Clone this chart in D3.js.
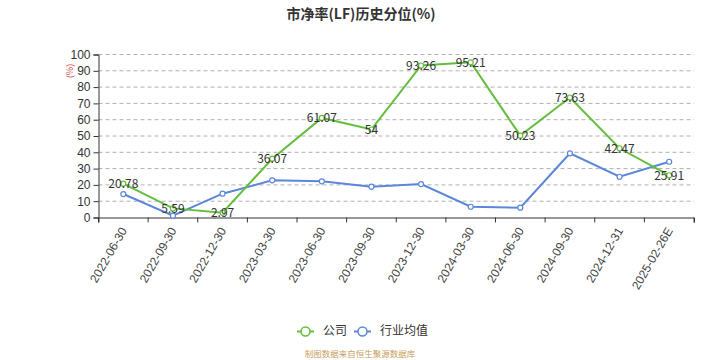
<!DOCTYPE html>
<html><head><meta charset="utf-8">
<script src="https://cdn.jsdelivr.net/npm/d3@7/dist/d3.min.js"></script>
<style>body{margin:0;background:#fff;}svg{display:block;font-family:"Noto Sans CJK SC","Noto Sans",sans-serif;}</style>
</head><body>
<script>
const categories = ["2022-06-30","2022-09-30","2022-12-30","2023-03-30","2023-06-30","2023-09-30","2023-12-30","2024-03-30","2024-06-30","2024-09-30","2024-12-31","2025-02-26E"];
const companyValues = [20.78,5.59,2.97,36.07,61.07,54,93.26,95.21,50.23,73.63,42.47,25.91];
const industryValues = [14.4,1.1,14.6,22.8,22.2,18.9,20.5,6.6,6.0,39.4,25.0,34.2];
const yTicks = [0,10,20,30,40,50,60,70,80,90,100];
const seriesNames = ["公司","行业均值"];
const title = "市净率(LF)历史分位(%)";
const footer = "制图数据来自恒生聚源数据库";

const W=720,H=360;
const svg=d3.select("body").append("svg").attr("width",W).attr("height",H);
const x=d3.scaleBand().domain(categories).range([98.5,694]);
const y=d3.scaleLinear().domain([0,100]).range([217.5,54.5]);
const green="#64bd3d", blue="#5b87da";

// grid
svg.append("g").selectAll("line").data(yTicks.filter(d=>d>0)).join("line")
 .attr("x1",98.5).attr("x2",694).attr("y1",d=>y(d)).attr("y2",d=>y(d))
 .attr("stroke","#b0b0b0").attr("stroke-dasharray","4,3").attr("stroke-width",1);

// y axis
const ya=svg.append("g").attr("transform","translate(98.5,0)").call(d3.axisLeft(y).tickValues(yTicks).tickSize(5).tickPadding(3));
ya.selectAll("text").attr("font-size",12).attr("fill","#333");
ya.select(".domain").attr("stroke","#333");
ya.selectAll(".tick line").attr("stroke","#333");

// x axis
const xa=svg.append("g").attr("transform","translate(0,217.5)").call(d3.axisBottom(x).tickSize(5).tickSizeOuter(5));
xa.select(".domain").attr("stroke","#333");
xa.selectAll(".tick line").attr("stroke","#333").attr("transform",`translate(${-x.bandwidth()/2},0)`);
xa.append("line").attr("x1",694).attr("x2",694).attr("y1",0).attr("y2",5).attr("stroke","#333");
xa.selectAll(".tick text").attr("font-size",12).attr("fill","#444")
 .attr("text-anchor","end").attr("dy",0).attr("y",0)
 .attr("transform","translate(4,13) rotate(-60)");

// unit label
svg.append("text").attr("transform","translate(71,71) rotate(-90)").attr("text-anchor","middle")
 .attr("dominant-baseline","middle").attr("font-size",9).attr("fill","#d05050").text("(%)");

const cx=d=>x(d)+x.bandwidth()/2;
function drawLine(vals,color){
  const line=d3.line().x((d,i)=>cx(categories[i])).y(d=>y(d));
  svg.append("path").datum(vals).attr("d",line).attr("fill","none").attr("stroke",color).attr("stroke-width",2);
  svg.append("g").selectAll("circle").data(vals).join("circle")
   .attr("cx",(d,i)=>cx(categories[i])).attr("cy",d=>y(d)).attr("r",2.5)
   .attr("fill","#fff").attr("stroke",color).attr("stroke-width",1.2);
}
drawLine(industryValues,blue);
drawLine(companyValues,green);

svg.append("g").selectAll("text").data(companyValues).join("text")
 .attr("x",(d,i)=>cx(categories[i])).attr("y",d=>y(d)+1)
 .attr("text-anchor","middle").attr("dominant-baseline","middle")
 .attr("font-size",12).attr("fill","#333").text(d=>d);

// title
svg.append("text").attr("x",361).attr("y",15).attr("text-anchor","middle").attr("dominant-baseline","middle")
 .attr("font-size",14).attr("font-weight","bold").attr("fill","#333").text(title);

// legend
const leg=[{n:seriesNames[0],c:green,x:297},{n:seriesNames[1],c:blue,x:354}];
leg.forEach(l=>{
  svg.append("line").attr("x1",l.x).attr("x2",l.x+17).attr("y1",331.5).attr("y2",331.5).attr("stroke",l.c).attr("stroke-width",2);
  svg.append("circle").attr("cx",l.x+8.5).attr("cy",331.5).attr("r",4.5).attr("fill","#fff").attr("stroke",l.c).attr("stroke-width",1.5);
  svg.append("text").attr("x",l.x+26).attr("y",331.5).attr("dominant-baseline","middle").attr("font-size",12).attr("fill","#333").text(l.n);
});

svg.append("text").attr("x",360).attr("y",354.5).attr("text-anchor","middle").attr("dominant-baseline","middle")
 .attr("font-size",8.5).attr("fill","#c8a060").text(footer);
</script>
</body></html>
